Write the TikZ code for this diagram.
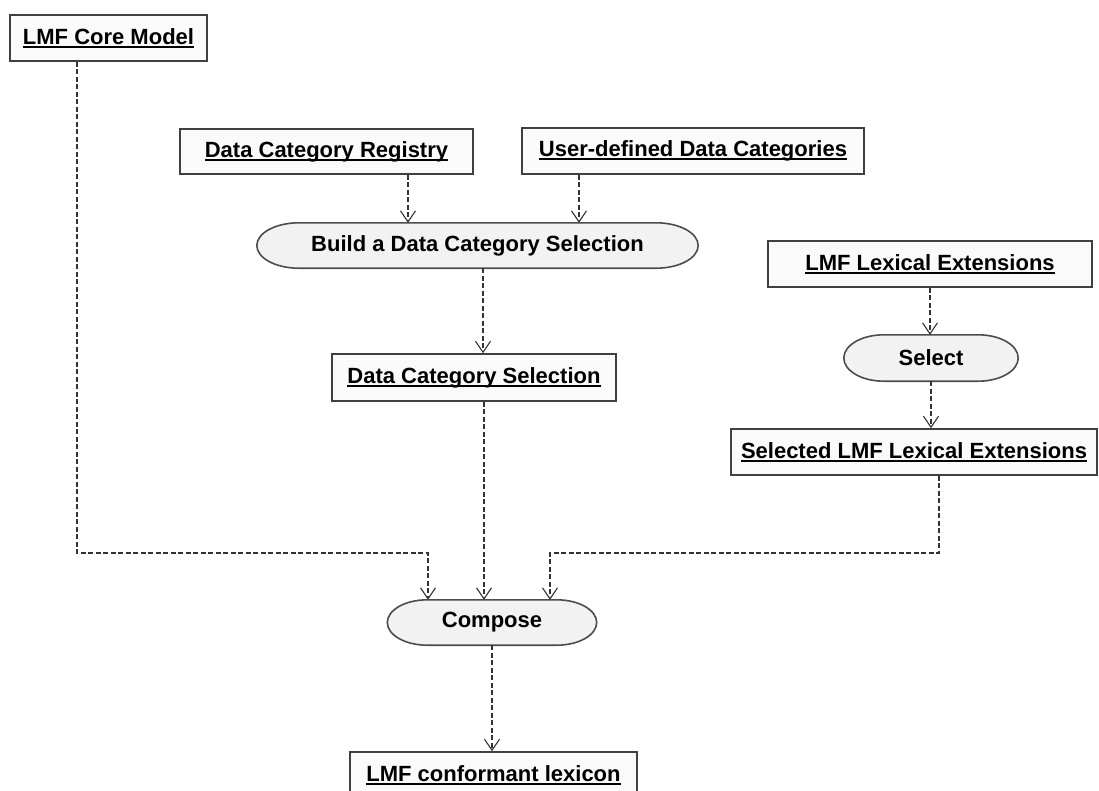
\documentclass[tikz,border=0pt]{standalone}
\usepackage{fontspec}
\setmainfont{Liberation Sans}
\usetikzlibrary{arrows.meta,calc,backgrounds}

\newcommand{\uln}[1]{\setbox0=\hbox{#1}\rlap{\rule[-3.4pt]{\wd0}{1.9pt}}\box0}
% pill shaped outline round a node, drawn behind it
\newcommand{\capsule}[2]{%
  \begin{pgfonlayer}{background}
    \draw[ovalline] let \p1=(#1.south west), \p2=(#1.north east), \n1={(\y2-\y1)/2} in
      (\x1+#2,\y1) -- (\x2-#2,\y1) arc[start angle=-90,end angle=90,x radius=#2,y radius=\n1]
      -- (\x1+#2,\y2) arc[start angle=90,end angle=270,x radius=#2,y radius=\n1] -- cycle;
  \end{pgfonlayer}}

\tikzset{
  artifact/.style={draw=black!75, line width=1.6pt, fill=gray!4, inner sep=0pt,
    minimum height=46pt, font=\bfseries\fontsize{22}{26}\selectfont},
  activity/.style={inner sep=0pt, minimum height=45pt, font=\bfseries\fontsize{22}{26}\selectfont},
  ovalline/.style={draw=black!70, line width=1.6pt, fill=gray!10},
  dep/.style={black!80, line width=1.8pt, dash pattern=on 5pt off 2.5pt,
    -{Straight Barb[length=11pt,width=15pt,line width=1.1pt]}}
}

\begin{document}
\begin{tikzpicture}[x=1pt,y=1pt]
  \useasboundingbox (0,0) rectangle (1099,-790); % page as the reference

  % Inputs
  \node[artifact, minimum width=197pt] (core) at (108.5,-38) {\uln{LMF Core Model}};
  \node[artifact, minimum width=293pt, minimum height=45pt] (dcr) at (326.5,-151.5) {\uln{Data Category Registry}};
  \node[artifact, minimum width=342pt] (udc) at (693,-151) {\uln{User-defined Data Categories}};
  \node[artifact, minimum width=324pt] (lexext) at (930,-264) {\uln{LMF Lexical Extensions}};

  % Activities
  \node[activity, minimum width=441pt] (build) at (477.5,-245.5) {Build a Data Category Selection};
  \node[activity, minimum width=174pt, minimum height=46pt] (select) at (931,-358) {Select};
  \node[activity, minimum width=209pt] (compose) at (492,-622.5) {Compose};
  \capsule{build}{42pt}
  \capsule{select}{40pt}
  \capsule{compose}{40pt}

  % Results
  \node[artifact, minimum width=284pt, minimum height=47pt] (dcs) at (474,-377.5) {\uln{Data Category Selection}};
  \node[artifact, minimum width=366pt] (sellex) at (914,-452) {\uln{Selected LMF Lexical Extensions}};
  \node[artifact, minimum width=287pt] (lexicon) at (493.5,-775) {\uln{LMF conformant lexicon}};

  % Connector ends
  \coordinate (join) at (0,-553); % level of the horizontal runs
  \coordinate (inA) at ([xshift=-64pt]compose.north);
  \coordinate (inB) at ([xshift=-8pt]compose.north);
  \coordinate (inC) at ([xshift=58pt]compose.north);
  \coordinate (outA) at ([xshift=-31.5pt]core.south);
  \coordinate (outC) at ([xshift=25pt]sellex.south);
  \coordinate (regOut) at ([xshift=81.5pt]dcr.south);
  \coordinate (udcOut) at ([xshift=-114pt]udc.south);
  \coordinate (dcsIn) at ([xshift=9pt]dcs.north);

  % Dependencies
  \draw[dep] (regOut) -- (regOut |- build.north);
  \draw[dep] (udcOut) -- (udcOut |- build.north);
  \draw[dep] (dcsIn |- build.south) -- (dcsIn);
  \draw[dep] (lexext.south) -- (lexext.south |- select.north);
  \draw[dep] (select.south) -- (select.south |- sellex.north);
  \draw[dep] (outA) |- (inA |- join) -- (inA);
  \draw[dep] (inB |- dcs.south) -- (inB);
  \draw[dep] (outC) |- (inC |- join) -- (inC);
  \draw[dep] (compose.south) -- (compose.south |- lexicon.north);
\end{tikzpicture}
\end{document}
